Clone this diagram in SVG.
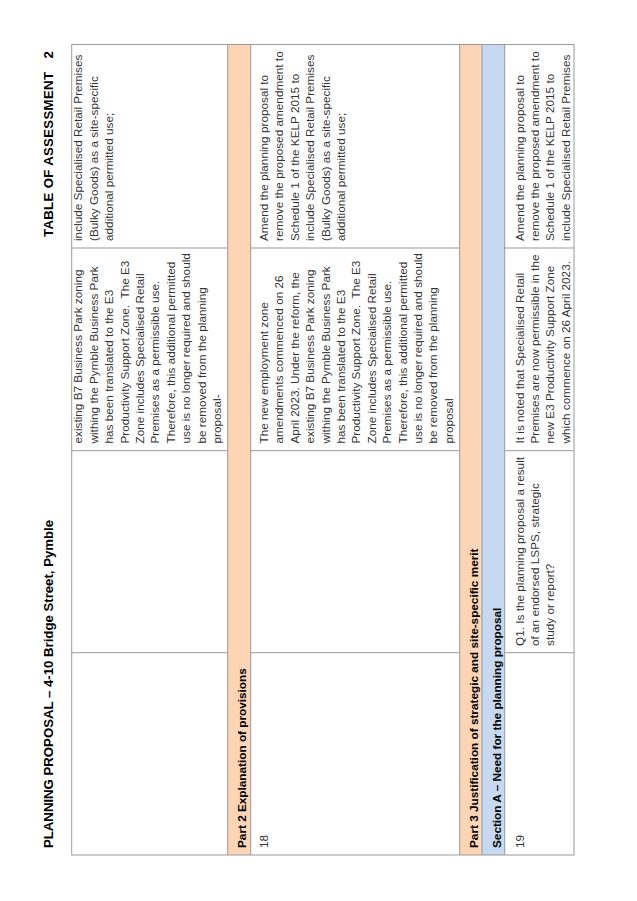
<svg xmlns="http://www.w3.org/2000/svg" width="637" height="901" viewBox="0 0 637 901">
<style>
.body{font-family:"Liberation Sans",Arial,sans-serif;font-size:11.77px;fill:#333333}
.hdr{font-family:"Liberation Sans",Arial,sans-serif;font-size:11.77px;font-weight:bold;fill:#000000}
.title{font-family:"Liberation Sans",Arial,sans-serif;font-size:13.2px;font-weight:bold;fill:#000000}
.grid{stroke:#999999;stroke-width:1;fill:none}
.orange{fill:#FBD5B5}
.blue{fill:#C6D9F1}
</style>
<rect width="637" height="901" fill="#ffffff"/>
<g transform="translate(0,901) rotate(-90)">
  <g id="page-header">
    <text class="title" x="53" y="52.5">PLANNING PROPOSAL – 4-10 Bridge Street, Pymble</text>
    <text class="title" x="664" y="52.5" textLength="165" lengthAdjust="spacing">TABLE OF ASSESSMENT</text>
    <text class="title" x="842.5" y="52.5">2</text>
  </g>
  <g id="bands">
    <rect class="orange" x="46" y="227.7" width="810.5" height="23"/>
    <rect class="orange" x="46" y="459.7" width="810.5" height="22.3"/>
    <rect class="blue" x="46" y="482" width="810.5" height="22.7"/>
  </g>
  <g id="grid-lines" class="grid">
    <rect x="46" y="71.7" width="810.5" height="502.3"/>
    <line x1="46" y1="227.7" x2="856.5" y2="227.7"/>
    <line x1="46" y1="250.7" x2="856.5" y2="250.7"/>
    <line x1="46" y1="459.7" x2="856.5" y2="459.7"/>
    <line x1="46" y1="482" x2="856.5" y2="482"/>
    <line x1="46" y1="504.7" x2="856.5" y2="504.7"/>
    <line x1="248.3" y1="71.7" x2="248.3" y2="227.7"/>
    <line x1="450.3" y1="71.7" x2="450.3" y2="227.7"/>
    <line x1="653" y1="71.7" x2="653" y2="227.7"/>
    <line x1="248.3" y1="250.7" x2="248.3" y2="459.7"/>
    <line x1="450.3" y1="250.7" x2="450.3" y2="459.7"/>
    <line x1="653" y1="250.7" x2="653" y2="459.7"/>
    <line x1="248.3" y1="504.7" x2="248.3" y2="574"/>
    <line x1="450.3" y1="504.7" x2="450.3" y2="574"/>
    <line x1="653" y1="504.7" x2="653" y2="574"/>
  </g>
  <g id="row-continued">
    <text class="body" x="457.5" y="82.4">existing B7 Business Park zoning</text>
    <text class="body" x="457.5" y="97.8">withing the Pymble Business Park</text>
    <text class="body" x="457.5" y="113.2">has been translated to the E3</text>
    <text class="body" x="457.5" y="128.6" xml:space="preserve">Productivity Support Zone.  The E3</text>
    <text class="body" x="457.5" y="144">Zone includes Specialised Retail</text>
    <text class="body" x="457.5" y="159.4">Premises as a permissible use.</text>
    <text class="body" x="457.5" y="174.8">Therefore, this additional permitted</text>
    <text class="body" x="457.5" y="190.2">use is no longer required and should</text>
    <text class="body" x="457.5" y="205.6">be removed from the planning</text>
    <text class="body" x="457.5" y="221">proposal-</text>
    <text class="body" x="660" y="82.4">include Specialised Retail Premises</text>
    <text class="body" x="660" y="97.8">(Bulky Goods) as a site-specific</text>
    <text class="body" x="660" y="113.2">additional permitted use;</text>
  </g>
  <g id="part2-header">
    <text class="hdr" x="53" y="246.3">Part 2 Explanation of provisions</text>
  </g>
  <g id="row-18">
    <text class="body" x="53" y="268">18</text>
    <text class="body" x="457.5" y="268">The new employment zone</text>
    <text class="body" x="457.5" y="283.4">amendments commenced on 26</text>
    <text class="body" x="457.5" y="298.8">April 2023. Under the reform, the</text>
    <text class="body" x="457.5" y="314.2">existing B7 Business Park zoning</text>
    <text class="body" x="457.5" y="329.6">withing the Pymble Business Park</text>
    <text class="body" x="457.5" y="345">has been translated to the E3</text>
    <text class="body" x="457.5" y="360.4" xml:space="preserve">Productivity Support Zone.  The E3</text>
    <text class="body" x="457.5" y="375.8">Zone includes Specialised Retail</text>
    <text class="body" x="457.5" y="391.2">Premises as a permissible use.</text>
    <text class="body" x="457.5" y="406.6">Therefore, this additional permitted</text>
    <text class="body" x="457.5" y="422">use is no longer required and should</text>
    <text class="body" x="457.5" y="437.4">be removed from the planning</text>
    <text class="body" x="457.5" y="452.8">proposal</text>
    <text class="body" x="660" y="268">Amend the planning proposal to</text>
    <text class="body" x="660" y="283.4">remove the proposed amendment to</text>
    <text class="body" x="660" y="298.8">Schedule 1 of the KELP 2015 to</text>
    <text class="body" x="660" y="314.2">include Specialised Retail Premises</text>
    <text class="body" x="660" y="329.6">(Bulky Goods) as a site-specific</text>
    <text class="body" x="660" y="345">additional permitted use;</text>
  </g>
  <g id="part3-header">
    <text class="hdr" x="53" y="478.3">Part 3 Justification of strategic and site-specific merit</text>
  </g>
  <g id="sectionA-header">
    <text class="hdr" x="53" y="500.6">Section A – Need for the planning proposal</text>
  </g>
  <g id="row-19">
    <text class="body" x="53" y="523.5">19</text>
    <text class="body" x="255" y="523.5">Q1. Is the planning proposal a result</text>
    <text class="body" x="255" y="538.9">of an endorsed LSPS, strategic</text>
    <text class="body" x="255" y="554.3">study or report?</text>
    <text class="body" x="457.5" y="523.5">It is noted that Specialised Retail</text>
    <text class="body" x="457.5" y="538.9">Premises are now permissible in the</text>
    <text class="body" x="457.5" y="554.3">new E3 Productivity Support Zone</text>
    <text class="body" x="457.5" y="569.7">which commence on 26 April 2023.</text>
    <text class="body" x="660" y="523.5">Amend the planning proposal to</text>
    <text class="body" x="660" y="538.9">remove the proposed amendment to</text>
    <text class="body" x="660" y="554.3">Schedule 1 of the KELP 2015 to</text>
    <text class="body" x="660" y="569.7">include Specialised Retail Premises</text>
  </g>
</g>
</svg>
